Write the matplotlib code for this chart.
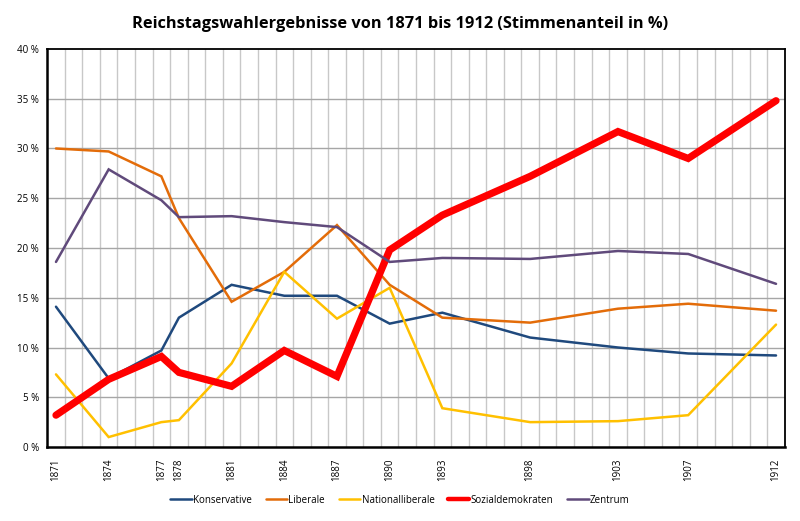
import numpy as np
import matplotlib.pyplot as plt

years = [1871, 1874, 1877, 1878, 1881, 1884, 1887, 1890, 1893, 1898, 1903, 1907, 1912]
konservative = [14.1, 6.9, 9.7, 13.0, 16.3, 15.2, 15.2, 12.4, 13.5, 11.0, 10.0, 9.4, 9.2]
liberale = [30.0, 29.7, 27.2, 23.0, 14.6, 17.6, 22.3, 16.3, 13.0, 12.5, 13.9, 14.4, 13.7]
nationalliberale = [7.3, 1.0, 2.5, 2.7, 8.4, 17.6, 12.9, 16.0, 3.9, 2.5, 2.6, 3.2, 12.3]
sozialdemokraten = [3.2, 6.8, 9.1, 7.5, 6.1, 9.7, 7.1, 19.8, 23.3, 27.2, 31.7, 29.0, 34.8]
zentrum = [18.6, 27.9, 24.8, 23.1, 23.2, 22.6, 22.1, 18.6, 19.0, 18.9, 19.7, 19.4, 16.4]

series = [
    ("Konservative", konservative, "#1f497d", 1.8),
    ("Liberale", liberale, "#e36c09", 1.8),
    ("Nationalliberale", nationalliberale, "#ffc000", 1.8),
    ("Sozialdemokraten", sozialdemokraten, "#ff0000", 5.2),
    ("Zentrum", zentrum, "#604a7b", 1.8),
]

plt.rcParams["font.family"] = ["Open Sans", "DejaVu Sans"]

fig = plt.figure(figsize=(8, 5.21), dpi=100)
ax = fig.add_axes([0.059, 0.142, 0.922, 0.764])

for name, vals, col, lw in series:
    ax.plot(years, vals, color=col, lw=lw, label=name, solid_capstyle="round",
            solid_joinstyle="miter", zorder=3)

ax.set_xlim(1870.5, 1912.5)
ax.set_ylim(0, 40)
ax.set_xticks(years)
ax.set_xticklabels([str(y) for y in years], rotation=90, fontsize=7)
ax.set_yticks(np.arange(0, 41, 5))
ax.set_yticklabels([f"{v} %" for v in range(0, 41, 5)], fontsize=7)
ax.tick_params(length=0, pad=8)
ax.tick_params(axis="y", pad=6)

# gridlines sit between the years, like the Excel date axis
for x in np.arange(1871.5, 1912, 1):
    ax.axvline(x, color="#c8c8c8", lw=1.0, zorder=1)
for y in range(5, 40, 5):
    ax.axhline(y, color="#a6a6a6", lw=1.0, zorder=1)

for s in ax.spines.values():
    s.set_color("black")
    s.set_linewidth(1.3)
ax.spines["left"].set_linewidth(1.8)
ax.spines["bottom"].set_linewidth(1.8)

fig.suptitle("Reichstagswahlergebnisse von 1871 bis 1912 (Stimmenanteil in %)",
             fontsize=11.8, fontweight="bold", y=0.97)

leg = fig.legend(loc="center", bbox_to_anchor=(0.5, 0.04), ncol=5, frameon=False,
                 fontsize=7, handlelength=2.2, handletextpad=0.15, columnspacing=1.4)
for h in leg.legend_handles:
    if h.get_linewidth() > 3:
        h.set_linewidth(3.2)

fig.savefig("out.png", dpi=100)
